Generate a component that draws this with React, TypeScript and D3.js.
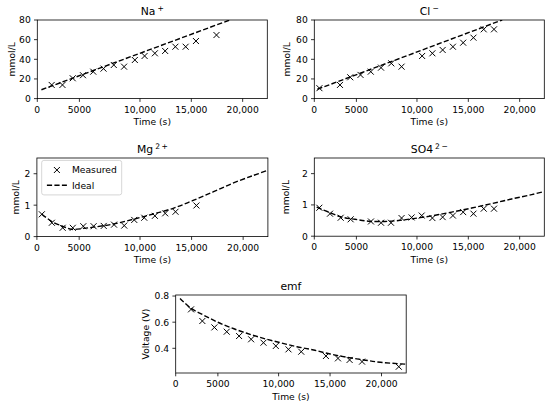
import React from 'react';
import * as d3 from 'd3';

// ---------- data ----------
const xMax = 22400;
const xTickValues = [0, 4100, 10000, 15000, 20000];
const xTickLabels = ['0', '5000', '10,000', '15,000', '20,000'];

const naTime = [1400, 2450, 3450, 4450, 5450, 6450, 7450, 8450, 9500, 10450, 11450, 12450, 13450, 14450, 15450, 17450];
const naMeasured = [13.9, 13.9, 20.7, 23.8, 27.4, 30.5, 34.2, 32.5, 39.3, 43.4, 46.1, 48.5, 52.8, 52.8, 58.6, 64.7];
const naIdealTime = [400, 18750];
const naIdeal = [9, 80];

const clTime = [500, 2500, 3500, 4500, 5500, 6500, 7500, 8500, 10500, 11500, 12500, 13500, 14500, 15500, 16500, 17500];
const clMeasured = [10.6, 13.9, 21.7, 24.1, 27.4, 31.5, 35.9, 32.5, 43.4, 46.1, 49.5, 52.8, 56.9, 62, 70.5, 70.5];
const clIdealTime = [300, 18300];
const clIdeal = [9.5, 80];

const mgTime = [480, 1450, 2500, 3480, 4500, 5500, 6480, 7480, 8470, 9440, 10410, 11440, 12440, 13440, 15470];
const mgMeasured = [0.71, 0.44, 0.28, 0.28, 0.33, 0.33, 0.34, 0.38, 0.35, 0.53, 0.6, 0.66, 0.74, 0.79, 0.99];
const mgIdealTime = [480, 1600, 2570, 3380, 4510, 5470, 7410, 9340, 11280, 13210, 15150, 17080, 19010, 20950, 22400];
const mgIdeal = [0.71, 0.45, 0.32, 0.23, 0.26, 0.3, 0.4, 0.55, 0.72, 0.9, 1.15, 1.42, 1.7, 1.94, 2.11];

const so4Time = [490, 1530, 2570, 3540, 5520, 6500, 7470, 8500, 9480, 10460, 11500, 12500, 13500, 14500, 15500, 16500, 17500];
const so4Measured = [0.91, 0.72, 0.59, 0.54, 0.47, 0.43, 0.43, 0.58, 0.6, 0.66, 0.58, 0.61, 0.66, 0.77, 0.72, 0.88, 0.88];
const so4IdealTime = [230, 1530, 2670, 3960, 5260, 6880, 8180, 9800, 11430, 13380, 15330, 17270, 19220, 21170, 22400];
const so4Ideal = [0.93, 0.75, 0.61, 0.54, 0.48, 0.47, 0.5, 0.57, 0.65, 0.77, 0.9, 1.04, 1.19, 1.33, 1.43];

const emfTime = [1490, 2590, 3760, 4960, 6160, 7330, 8530, 9730, 10960, 12200, 14600, 15770, 16900, 18110, 21680];
const emfMeasured = [0.698, 0.609, 0.56, 0.527, 0.494, 0.469, 0.443, 0.418, 0.392, 0.374, 0.341, 0.323, 0.311, 0.298, 0.259];
const emfIdealTime = [420, 1490, 2690, 3990, 5290, 6910, 8530, 10160, 11780, 13400, 15020, 16650, 18270, 19890, 22420];
const emfIdeal = [0.782, 0.706, 0.655, 0.603, 0.56, 0.515, 0.476, 0.443, 0.412, 0.387, 0.356, 0.331, 0.311, 0.293, 0.278];

const concTicksNaCl = [0, 20, 40, 60, 80];
const concTicksMgSO4 = [0, 1, 2];
const emfTicks = [0.4, 0.6, 0.8];
const emfTickLabels = ['0.4', '0.6', '0.8'];

// ---------- layout ----------
const FONT = "'DejaVu Sans', sans-serif";
const TICK_FS = 9.2;

type Spec = {
  id: string;
  title: React.ReactNode;
  left: number; right: number; top: number; bottom: number;
  yDomain: [number, number];
  yTicks: number[];
  yTickLabels?: string[];
  yLabel: string;
  yLabelX: number;
  mx: number[]; my: number[];
  ix: number[]; iy: number[];
  legend?: boolean;
};

const sup = (base: string, parts: string[]) => (
  <>
    {base}
    {parts.map((p, i) => (
      <tspan key={i} fontSize={7.6} dx={i === 0 ? 2 : 1.5} dy={i === 0 ? -4.2 : 0}>{p}</tspan>
    ))}
  </>
);

const specs: Spec[] = [
  { id: 'na', title: sup('Na', ['+']), left: 37.3, right: 267.3, top: 20, bottom: 98.6,
    yDomain: [0, 80], yTicks: concTicksNaCl, yLabel: 'mmol/L', yLabelX: 15,
    mx: naTime, my: naMeasured, ix: naIdealTime, iy: naIdeal },
  { id: 'cl', title: sup('Cl', ['\u2212']), left: 314.3, right: 544.3, top: 20, bottom: 98.6,
    yDomain: [0, 80], yTicks: concTicksNaCl, yLabel: 'mmol/L', yLabelX: 290,
    mx: clTime, my: clMeasured, ix: clIdealTime, iy: clIdeal },
  { id: 'mg', title: sup('Mg', ['2', '+']), left: 36.9, right: 267.9, top: 158, bottom: 236.6,
    yDomain: [0, 2.5], yTicks: concTicksMgSO4, yLabel: 'mmol/L', yLabelX: 19.3,
    mx: mgTime, my: mgMeasured, ix: mgIdealTime, iy: mgIdeal, legend: true },
  { id: 'so4', title: sup('SO4', ['2', '\u2212']), left: 314.3, right: 544.3, top: 158, bottom: 236.2,
    yDomain: [0, 2.5], yTicks: concTicksMgSO4, yLabel: 'mmol/L', yLabelX: 289,
    mx: so4Time, my: so4Measured, ix: so4IdealTime, iy: so4Ideal },
  { id: 'emf', title: 'emf', left: 175.7, right: 406.2, top: 295, bottom: 373,
    yDomain: [0.211, 0.808], yTicks: emfTicks, yTickLabels: emfTickLabels, yLabel: 'Voltage (V)', yLabelX: 148.5,
    mx: emfTime, my: emfMeasured, ix: emfIdealTime, iy: emfIdeal },
];

const Cross = ({ cx, cy, r = 3 }: { cx: number; cy: number; r?: number }) => (
  <path d={`M${cx - r},${cy - r}L${cx + r},${cy + r}M${cx - r},${cy + r}L${cx + r},${cy - r}`}
    stroke="#000" strokeWidth={1} fill="none" />
);

function Panel({ s }: { s: Spec }) {
  const x = d3.scaleLinear().domain([0, xMax]).range([s.left, s.right]);
  const y = d3.scaleLinear().domain(s.yDomain).range([s.bottom, s.top]);
  const pts: [number, number][] = s.ix.map((t, i) => [t, s.iy[i]]);
  const line = d3.line<[number, number]>().x(d => x(d[0])).y(d => y(d[1])).curve(d3.curveCatmullRom.alpha(0.5));
  const cx = (s.left + s.right) / 2;
  const cy = (s.top + s.bottom) / 2;
  const clipId = `clip-${s.id}`;
  return (
    <g fontFamily={FONT}>
      <defs>
        <clipPath id={clipId}>
          <rect x={s.left} y={s.top} width={s.right - s.left} height={s.bottom - s.top} />
        </clipPath>
      </defs>
      {/* ideal line */}
      <path d={line(pts) || ''} fill="none" stroke="#000" strokeWidth={1.4}
        strokeDasharray="5.2,2.3" clipPath={`url(#${clipId})`} />
      {/* measured */}
      {s.mx.map((t, i) => <Cross key={i} cx={x(t)} cy={y(s.my[i])} />)}
      {/* frame */}
      <rect x={s.left} y={s.top} width={s.right - s.left} height={s.bottom - s.top}
        fill="none" stroke="#000" strokeWidth={0.8} />
      {/* x ticks */}
      {xTickValues.map((v, i) => (
        <g key={i}>
          <line x1={x(v)} x2={x(v)} y1={s.bottom} y2={s.bottom + 3.3} stroke="#000" strokeWidth={0.8} />
          <text x={x(v)} y={s.bottom + 14} fontSize={TICK_FS} textAnchor="middle" fill="#000">{xTickLabels[i]}</text>
        </g>
      ))}
      {/* y ticks */}
      {s.yTicks.map((v, i) => (
        <g key={i}>
          <line x1={s.left - 3.3} x2={s.left} y1={y(v)} y2={y(v)} stroke="#000" strokeWidth={0.8} />
          <text x={s.left - 6.5} y={y(v) + 3.4} fontSize={TICK_FS} textAnchor="end" fill="#000">
            {s.yTickLabels ? s.yTickLabels[i] : String(v)}
          </text>
        </g>
      ))}
      {/* labels */}
      <text x={cx} y={s.bottom + 26.5} fontSize={TICK_FS} textAnchor="middle" fill="#000">Time (s)</text>
      <text transform={`translate(${s.yLabelX},${cy}) rotate(-90)`} fontSize={TICK_FS} textAnchor="middle" fill="#000">{s.yLabel}</text>
      <text x={cx} y={s.top - 5.3} fontSize={10.8} textAnchor="middle" fill="#000">{s.title}</text>
      {s.legend && (
        <g>
          <rect x={s.left + 4.8} y={s.top + 2.4} width={80} height={34.5} rx={2.2}
            fill="#fff" fillOpacity={0.8} stroke="#cccccc" strokeWidth={0.8} />
          <Cross cx={s.left + 20} cy={s.top + 12} />
          <text x={s.left + 35} y={s.top + 15.3} fontSize={TICK_FS} fill="#000">Measured</text>
          <line x1={s.left + 10} x2={s.left + 30} y1={s.top + 27.3} y2={s.top + 27.3}
            stroke="#000" strokeWidth={1.4} strokeDasharray="5.2,2.3" />
          <text x={s.left + 35} y={s.top + 30.6} fontSize={TICK_FS} fill="#000">Ideal</text>
        </g>
      )}
    </g>
  );
}

export default function App() {
  return (
    <svg width={550} height={407} viewBox="0 0 550 407"
      style={{ position: 'absolute', left: 0, top: 0, background: '#fff' }}>
      <rect width={550} height={407} fill="#fff" />
      {specs.map(s => <Panel key={s.id} s={s} />)}
    </svg>
  );
}
